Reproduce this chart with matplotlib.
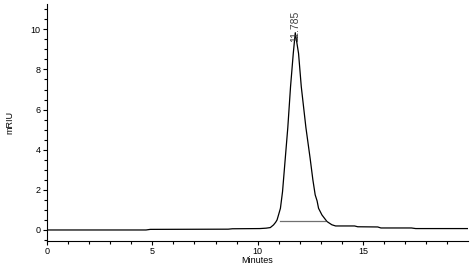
import matplotlib
matplotlib.use("Agg")
import matplotlib.pyplot as plt
from matplotlib.ticker import MultipleLocator

plt.rcParams['font.family'] = ['Liberation Sans', 'DejaVu Sans']

# chromatogram trace
time_min = [0.0, 4.7, 4.9, 8.6, 8.8, 10.1, 10.4, 10.6, 10.75, 10.85, 10.92,
            10.99, 11.08, 11.18, 11.31, 11.43, 11.56, 11.69, 11.785, 11.94,
            12.07, 12.29, 12.49, 12.62, 12.73, 12.82, 12.89, 13.05, 13.29,
            13.52, 13.7, 14.6, 14.75, 15.7, 15.85, 17.3, 17.5, 20.0]
signal_mriu = [0.0, 0.0, 0.03, 0.04, 0.06, 0.07, 0.09, 0.12, 0.25, 0.38, 0.5,
               0.75, 1.08, 1.91, 3.57, 5.1, 7.14, 8.8, 9.83, 8.8,
               7.14, 5.1, 3.57, 2.5, 1.75, 1.45, 1.08, 0.75, 0.42,
               0.26, 0.2, 0.2, 0.16, 0.15, 0.1, 0.1, 0.07, 0.07]

# integration baseline
base_t = [11.05, 13.2]
base_v = [0.43, 0.43]

peak_rt = 11.785
peak_label = "11.785"

fig = plt.figure(figsize=(4.73, 2.68), dpi=100)
ax = fig.add_axes([0.0994, 0.1007, 0.8894, 0.8843])
ax.plot(time_min, signal_mriu, color='black', lw=0.9)
ax.plot(base_t, base_v, color='#707070', lw=0.9)
ax.text(peak_rt, 9.35, peak_label, rotation=90, ha='center', va='bottom',
        fontsize=7.5, color='#404040')

ax.set_xlim(0, 19.97)
ax.set_ylim(-0.55, 11.26)
ax.spines['top'].set_visible(False)
ax.spines['right'].set_visible(False)
ax.xaxis.set_major_locator(MultipleLocator(5))
ax.xaxis.set_minor_locator(MultipleLocator(1))
ax.yaxis.set_major_locator(MultipleLocator(2))
ax.yaxis.set_minor_locator(MultipleLocator(0.5))
ax.tick_params(which='both', labelsize=6.5, width=0.8, pad=1.5)
ax.tick_params(which='major', length=3)
ax.tick_params(which='minor', length=2.5)
ax.set_xlabel("Minutes", fontsize=6.5, labelpad=0)
ax.set_ylabel("mRIU", fontsize=6.5, labelpad=12)
fig.savefig("out.png", dpi=100)
